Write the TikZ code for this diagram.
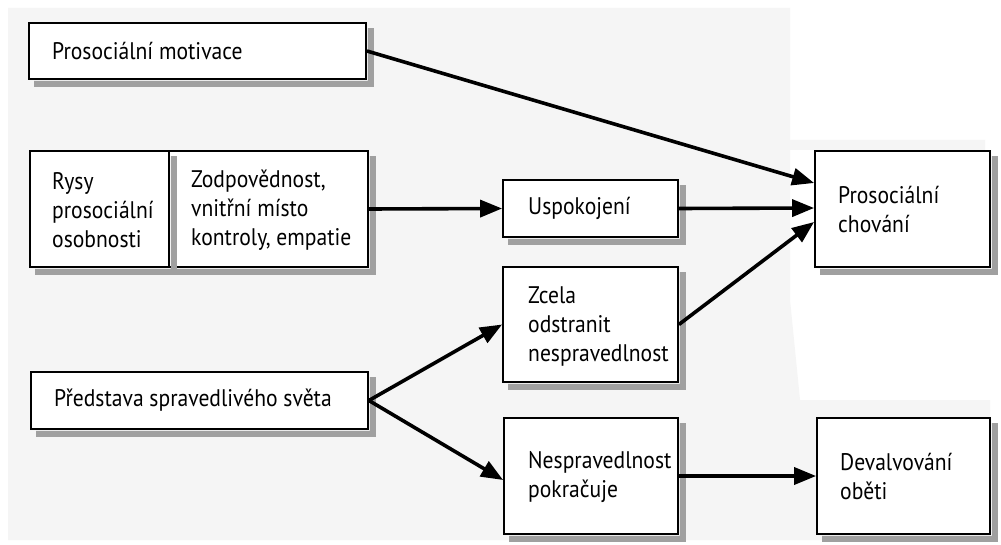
\documentclass[tikz,border=0pt]{standalone}
\usepackage{fontspec}
\setmainfont{PT Sans}[FakeStretch=0.9]
\usetikzlibrary{arrows.meta}
\definecolor{bggray}{HTML}{F5F5F5}
\definecolor{shadowgray}{HTML}{A0A0A0}
\tikzset{
  txt/.style={font=\fontsize{24}{29}\selectfont, inner sep=0pt, align=left},
  box/.style={draw=black, line width=1.8pt, fill=white, inner sep=0pt},
  shadowfill/.style={fill=shadowgray, draw=none},
  conn/.style={line width=3.6pt, -{Triangle[length=22pt,width=17pt]}, shorten >=0pt}
}
\begin{document}
\begin{tikzpicture}[x=1pt,y=-1pt]
\useasboundingbox (0,0) rectangle (1001,545);
\fill[white] (0,0) rectangle (1001,545);
\fill[bggray] (8,8) -- (790,8) -- (790,140) -- (985,140) -- (985,150) -- (790,150) -- (790,300) -- (800,400) -- (990,400) -- (990,540) -- (8,540) -- cycle;

\node[box, minimum width=337pt, minimum height=56pt] (mot) at (197.5,51) {};
\node[txt, anchor=west] (motT) at (52,51) {Prosociální motivace};

\node[box, minimum width=139pt, minimum height=116pt] (rysy) at (99.5,209) {};
\node[box, minimum width=199pt, minimum height=116pt] (zod) at (268.5,209) {};
\node[txt, anchor=west] (rysyT) at (52,210) {Rysy\\prosociální\\osobnosti};
\node[txt, anchor=west] (zodT) at (191,210) {Zodpovědnost,\\vnitřní místo\\kontroly, empatie};

\node[box, minimum width=175pt, minimum height=57pt] (usp) at (590.5,208.5) {};
\node[txt, anchor=west] (uspT) at (528,208.5) {Uspokojení};

\node[box, minimum width=175pt, minimum height=116pt] (pch) at (902.5,209) {};
\node[txt, anchor=west] (pchT) at (838,210) {Prosociální\\chování};

\node[box, minimum width=175pt, minimum height=115pt] (zcela) at (590.5,324.5) {};
\node[txt, anchor=west] (zcelaT) at (528,326) {Zcela\\odstranit\\nespravedlnost};

\node[box, minimum width=337pt, minimum height=57pt] (pred) at (199.5,400.5) {};
\node[txt, anchor=west] (predT) at (54,400.5) {Představa spravedlivého světa};

\node[box, minimum width=174pt, minimum height=116pt] (nesp) at (591,476) {};
\node[txt, anchor=west] (nespT) at (528,477) {Nespravedlnost\\pokračuje};

\node[box, minimum width=173pt, minimum height=116pt] (dev) at (903.5,476) {};
\node[txt, anchor=west] (devT) at (840,477) {Devalvování\\oběti};

% L-shaped shadows outside the lower and right edges of each box
\foreach \n in {mot,rysy,zod,usp,pch,zcela,pred,nesp,dev}{
  \fill[shadowfill] ([xshift=6pt,yshift=-1pt]\n.south west) -- ([xshift=1pt,yshift=-1pt]\n.south east)
    -- ([xshift=1pt,yshift=-6pt]\n.north east) -- ([xshift=7pt,yshift=-6pt]\n.north east)
    -- ([xshift=7pt,yshift=-7pt]\n.south east) -- ([xshift=6pt,yshift=-7pt]\n.south west) -- cycle;
}

\draw[conn] (mot.east) -- ([yshift=26pt]pch.west);
\draw[conn] (zod.east) -- (usp.west);
\draw[conn] (usp.east) -- ([yshift=1pt]pch.west);
\draw[conn] (zcela.east) -- ([yshift=-13pt]pch.west);
\draw[conn] (pred.east) -- (zcela.west);
\draw[conn] (pred.east) -- ([yshift=-4pt]nesp.west);
\draw[conn] (nesp.east) -- (dev.west);
\end{tikzpicture}
\end{document}
